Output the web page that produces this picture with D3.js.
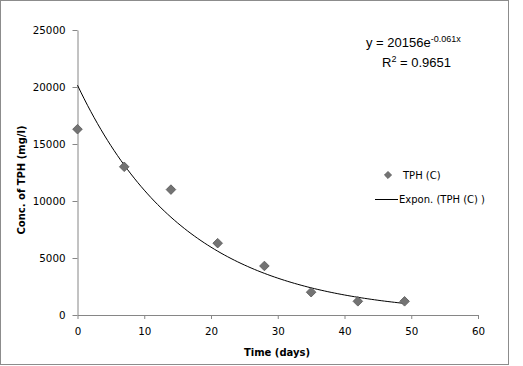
<!DOCTYPE html>
<html>
<head>
<meta charset="utf-8">
<script src="https://cdn.jsdelivr.net/npm/d3@7"></script>
<style>
  body { margin: 0; background: #fff; }
  text { font-family: "DejaVu Sans", Verdana, sans-serif; }
</style>
</head>
<body>
<div id="chart"></div>
<script>
// measured TPH concentration over time
var days = [0, 7, 14, 21, 28, 35, 42, 49];
var tph = [16300, 13000, 11000, 6300, 4300, 2000, 1200, 1200];
var xTicks = [0, 10, 20, 30, 40, 50, 60];
var yTicks = [0, 5000, 10000, 15000, 20000, 25000];
// exponential trendline y = a * e^(b x)
var trendA = 20156, trendB = -0.061;

var width = 523, height = 366;
var svg = d3.select("#chart").append("svg")
    .attr("width", width)
    .attr("height", height)
    .style("display", "block");

// chart border
svg.append("rect")
    .attr("x", 0.5).attr("y", 0.5)
    .attr("width", 508).attr("height", 364)
    .attr("fill", "#fff")
    .attr("stroke", "#8c8c8c");

var x = d3.scaleLinear().domain([0, 60]).range([77.5, 478]);
var y = d3.scaleLinear().domain([0, 25000]).range([315, 30]);

var axisColor = "#868686";

var xAxis = svg.append("g")
    .attr("transform", "translate(0," + 315 + ")")
    .call(d3.axisBottom(x).tickValues(xTicks).tickFormat(d3.format("d"))
        .tickSize(4).tickSizeOuter(0).tickPadding(9));

var yAxis = svg.append("g")
    .attr("transform", "translate(" + 77.5 + ",0)")
    .call(d3.axisLeft(y).tickValues(yTicks).tickFormat(d3.format("d"))
        .tickSize(5).tickSizeOuter(0).tickPadding(7));

[xAxis, yAxis].forEach(function (a) {
    a.select(".domain").attr("stroke", axisColor);
    a.selectAll(".tick line").attr("stroke", axisColor);
    a.selectAll(".tick text")
        .attr("fill", "#000")
        .style("font-family", "'DejaVu Sans', Verdana, sans-serif")
        .style("font-size", "10.3px");
});

// trendline
var trend = d3.range(0, 49.01, 0.5).map(function (d) { return [d, trendA * Math.exp(trendB * d)]; });
var line = d3.line()
    .x(function (d) { return x(d[0]); })
    .y(function (d) { return y(d[1]); });

svg.append("path")
    .datum(trend)
    .attr("d", line)
    .attr("fill", "none")
    .attr("stroke", "#000")
    .attr("stroke-width", 1);

// diamond markers
var diamond = d3.symbol().type(d3.symbolSquare).size(46);
svg.append("g").selectAll(".pt")
    .data(days)
    .enter().append("path")
    .attr("class", "pt")
    .attr("d", diamond)
    .attr("transform", function (d, i) { return "translate(" + x(d) + "," + y(tph[i]) + ") rotate(45)"; })
    .attr("fill", "#737373")
    .attr("stroke", "#5a5a5a")
    .attr("stroke-width", 0.8);

// axis titles
svg.append("text")
    .attr("x", 277).attr("y", 356)
    .attr("text-anchor", "middle")
    .style("font-size", "10px")
    .style("font-weight", "bold")
    .text("Time (days)");

svg.append("text")
    .attr("transform", "translate(25,180) rotate(-90)")
    .attr("text-anchor", "middle")
    .style("font-size", "10px")
    .style("font-weight", "bold")
    .text("Conc. of TPH (mg/l)");

// equation
var eq = svg.append("text")
    .attr("x", 366).attr("y", 47)
    .style("font-family", "'Liberation Sans', Arial, sans-serif")
    .style("font-size", "13px");
eq.append("tspan").text("y = 20156e");
eq.append("tspan").attr("dy", -5).style("font-size", "9px").text("-0.061x");

var r2 = svg.append("text")
    .attr("x", 382).attr("y", 67)
    .style("font-family", "'Liberation Sans', Arial, sans-serif")
    .style("font-size", "13px");
r2.append("tspan").text("R");
r2.append("tspan").attr("dy", -5).style("font-size", "9px").text("2");
r2.append("tspan").attr("dy", 5).text(" = 0.9651");

// legend
svg.append("path")
    .attr("d", d3.symbol().type(d3.symbolSquare).size(25))
    .attr("transform", "translate(388,175) rotate(45)")
    .attr("fill", "#737373")
    .attr("stroke", "#5a5a5a")
    .attr("stroke-width", 0.8);
svg.append("text")
    .attr("x", 403).attr("y", 179)
    .style("font-size", "10px")
    .text("TPH (C)");

svg.append("line")
    .attr("x1", 375).attr("x2", 398)
    .attr("y1", 199.5).attr("y2", 199.5)
    .attr("stroke", "#000");
svg.append("text")
    .attr("x", 399).attr("y", 203)
    .style("font-size", "10px")
    .text("Expon. (TPH (C) )");
</script>
</body>
</html>
